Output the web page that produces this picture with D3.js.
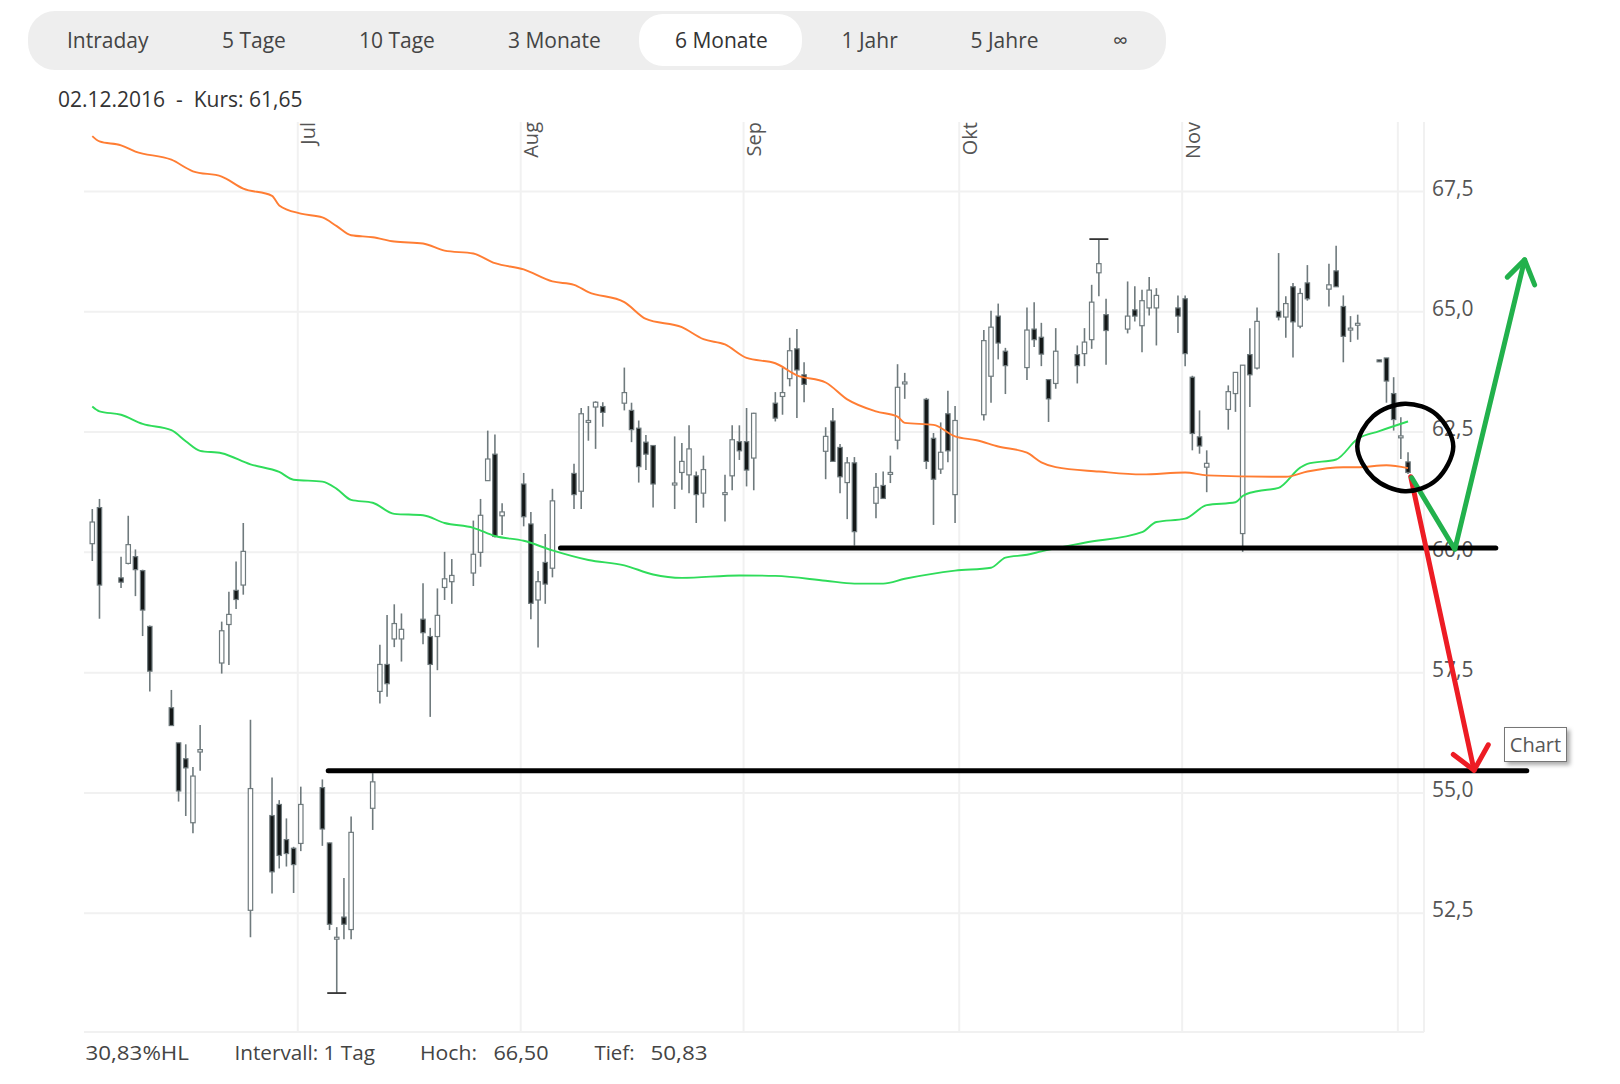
<!DOCTYPE html>
<html>
<head>
<meta charset="utf-8">
<script src="https://cdn.jsdelivr.net/npm/d3@7"></script>
<style>
    body { margin: 0; background: #fff; }
    text { font-family: "Open Sans", sans-serif; }
</style>
</head>
<body>
<div id="chart"></div>
<script>
// Range buttons and info texts
const rangeLabels = ['Intraday', '5 Tage', '10 Tage', '3 Monate', '6 Monate', '1 Jahr', '5 Jahre', '∞'];
const rangeLeft = [67, 222, 359, 508, 675, 841.5, 970.5, 1113];
const selectedRange = '6 Monate';
const headerText = '02.12.2016  -  Kurs: 61,65';
const footerTexts = ['30,83%HL', 'Intervall: 1 Tag', 'Hoch:', '66,50', 'Tief:', '50,83'];
const footerLeft = [85.5, 234.5, 420, 493.5, 594.5, 650.5];
const footerWidth = [103.5, 140.5, 57, 55, 40, 57];

// Axis ticks
const priceTicks = [52.5, 55, 57.5, 60, 62.5, 65, 67.5];
const monthTicks = ['2016-07-01', '2016-08-01', '2016-09-01', '2016-10-01', '2016-11-01', '2016-12-01'];
const monthLabels = ['Jul', 'Aug', 'Sep', 'Okt', 'Nov', ''];

// Daily candles, one row per calendar week
const candleDates = [
    '2016-06-02', '2016-06-03',
    '2016-06-06', '2016-06-07', '2016-06-08', '2016-06-09', '2016-06-10',
    '2016-06-13', '2016-06-14', '2016-06-15', '2016-06-16', '2016-06-17',
    '2016-06-20', '2016-06-21', '2016-06-22', '2016-06-23', '2016-06-24',
    '2016-06-27', '2016-06-28', '2016-06-29', '2016-06-30', '2016-07-01',
    '2016-07-04', '2016-07-05', '2016-07-06', '2016-07-07', '2016-07-08',
    '2016-07-11', '2016-07-12', '2016-07-13', '2016-07-14', '2016-07-15',
    '2016-07-18', '2016-07-19', '2016-07-20', '2016-07-21', '2016-07-22',
    '2016-07-25', '2016-07-26', '2016-07-27', '2016-07-28', '2016-07-29',
    '2016-08-01', '2016-08-02', '2016-08-03', '2016-08-04', '2016-08-05',
    '2016-08-08', '2016-08-09', '2016-08-10', '2016-08-11', '2016-08-12',
    '2016-08-15', '2016-08-16', '2016-08-17', '2016-08-18', '2016-08-19',
    '2016-08-22', '2016-08-23', '2016-08-24', '2016-08-25', '2016-08-26',
    '2016-08-29', '2016-08-30', '2016-08-31', '2016-09-01', '2016-09-02',
    '2016-09-05', '2016-09-06', '2016-09-07', '2016-09-08', '2016-09-09',
    '2016-09-12', '2016-09-13', '2016-09-14', '2016-09-15', '2016-09-16',
    '2016-09-19', '2016-09-20', '2016-09-21', '2016-09-22', '2016-09-23',
    '2016-09-26', '2016-09-27', '2016-09-28', '2016-09-29', '2016-09-30',
    '2016-10-04', '2016-10-05', '2016-10-06', '2016-10-07',
    '2016-10-10', '2016-10-11', '2016-10-12', '2016-10-13', '2016-10-14',
    '2016-10-17', '2016-10-18', '2016-10-19', '2016-10-20', '2016-10-21',
    '2016-10-24', '2016-10-25', '2016-10-26', '2016-10-27', '2016-10-28',
    '2016-10-31', '2016-11-01', '2016-11-02', '2016-11-03', '2016-11-04',
    '2016-11-07', '2016-11-08', '2016-11-09', '2016-11-10', '2016-11-11',
    '2016-11-14', '2016-11-15', '2016-11-16', '2016-11-17', '2016-11-18',
    '2016-11-21', '2016-11-22', '2016-11-23', '2016-11-24', '2016-11-25',
    '2016-11-28', '2016-11-29', '2016-11-30', '2016-12-01', '2016-12-02'
];
const opens = [
    60.17, 60.92,
    59.46, 59.76, 59.90, 59.61, 58.45,
    56.76, 56.03, 55.70, 54.37, 55.84,
    57.69, 58.49, 59.20, 59.31, 52.55,
    54.52, 54.75, 54.02, 53.84, 53.94,
    55.10, 53.95, 51.95, 52.41, 52.15,
    54.67, 57.10, 57.66, 58.19, 58.19,
    58.60, 58.24, 58.24, 59.26, 59.38,
    59.56, 59.99, 61.48, 62.03, 60.75,
    61.41, 60.58, 59.00, 59.78, 59.66,
    61.63, 61.26, 62.69, 63.01, 63.02,
    63.09, 62.94, 62.57, 62.28, 62.21,
    61.39, 61.65, 61.60, 61.58, 61.22,
    61.19, 61.58, 62.29, 62.29, 61.95,
    63.09, 63.23, 63.60, 64.22, 63.68,
    62.09, 62.72, 62.17, 61.44, 61.85,
    61.01, 61.38, 61.61, 62.32, 63.49,
    63.17, 62.36, 61.72, 62.87, 61.19,
    62.85, 63.65, 64.90, 64.17,
    63.83, 64.63, 64.46, 63.58, 63.50,
    64.10, 64.12, 64.41, 65.80, 64.93,
    64.63, 65.03, 64.70, 65.07, 65.07,
    65.07, 65.26, 63.63, 62.39, 61.76,
    62.96, 63.29, 60.38, 64.10, 63.82,
    65.00, 64.88, 65.51, 64.69, 65.59,
    65.46, 65.84, 65.10, 64.61, 64.71,
    63.99, 64.03, 63.29, 62.37, 61.87
];
const highs = [
    60.89, 61.10,
    59.90, 60.75, 60.05, 59.63, 58.47,
    57.13, 56.03, 56.00, 55.53, 56.40,
    58.55, 59.17, 59.80, 60.60, 56.51,
    55.31, 54.84, 54.46, 53.87, 55.12,
    55.27, 53.96, 52.20, 53.22, 54.50,
    55.40, 58.07, 58.69, 58.91, 58.72,
    59.35, 58.42, 59.24, 60.00, 59.85,
    60.65, 61.10, 62.52, 62.44, 61.01,
    61.64, 60.83, 59.60, 60.37, 61.31,
    61.83, 62.99, 63.03, 63.13, 63.11,
    63.83, 63.10, 62.73, 62.43, 62.21,
    62.40, 62.26, 62.63, 61.67, 62.00,
    61.60, 62.63, 62.63, 62.99, 62.89,
    63.32, 63.82, 64.45, 64.63, 63.94,
    62.59, 62.99, 62.24, 61.97, 61.97,
    61.64, 61.67, 62.00, 63.90, 63.72,
    63.20, 62.47, 62.69, 63.35, 63.03,
    64.61, 65.01, 65.16, 64.24,
    65.08, 65.19, 64.76, 63.59, 64.65,
    64.29, 64.65, 65.55, 66.50, 65.26,
    65.62, 65.52, 65.45, 65.71, 65.48,
    65.33, 65.33, 63.66, 62.94, 62.11,
    63.46, 63.73, 63.88, 64.65, 65.08,
    66.21, 65.31, 65.59, 65.48, 65.96,
    65.99, 66.36, 65.33, 64.90, 64.93,
    63.99, 64.03, 63.63, 62.80, 62.07
];
const lows = [
    59.81, 58.61,
    59.25, 59.74, 59.08, 58.25, 57.10,
    56.39, 54.81, 54.51, 54.15, 55.45,
    57.47, 57.65, 58.81, 59.11, 51.99,
    52.90, 53.42, 53.46, 52.91, 53.78,
    53.89, 52.14, 50.83, 51.95, 51.95,
    54.22, 56.85, 56.99, 58.02, 57.72,
    58.08, 56.57, 57.54, 59.00, 58.92,
    59.29, 59.69, 61.48, 60.30, 60.35,
    60.53, 58.60, 58.01, 58.92, 59.47,
    60.89, 60.89, 62.31, 62.14, 62.60,
    62.94, 62.28, 61.44, 61.70, 60.92,
    60.89, 61.29, 61.22, 60.60, 60.92,
    60.63, 61.28, 61.91, 61.36, 61.28,
    62.71, 62.85, 63.44, 62.78, 63.11,
    61.51, 61.88, 61.22, 60.68, 60.13,
    60.70, 61.10, 61.43, 62.13, 63.18,
    61.72, 60.56, 61.62, 61.86, 60.60,
    62.73, 63.10, 64.00, 63.28,
    63.57, 64.26, 63.86, 62.70, 63.39,
    63.50, 63.86, 64.22, 65.31, 63.89,
    64.54, 64.79, 64.15, 64.91, 64.29,
    64.55, 63.86, 62.11, 62.04, 61.24,
    62.54, 62.91, 60.00, 63.01, 63.79,
    64.81, 64.45, 64.04, 64.65, 65.22,
    65.10, 65.51, 63.94, 64.36, 64.41,
    63.95, 63.10, 62.52, 61.93, 61.62
];
const closes = [
    60.62, 59.31,
    59.37, 60.15, 59.63, 58.79, 57.52,
    56.39, 55.03, 55.51, 55.34, 55.89,
    58.36, 58.70, 59.01, 60.01, 55.08,
    53.35, 53.69, 53.73, 53.50, 54.75,
    54.24, 52.26, 51.99, 52.26, 54.17,
    55.22, 57.66, 57.26, 58.51, 58.39,
    58.32, 57.66, 58.68, 59.44, 59.51,
    59.95, 60.76, 61.93, 60.32, 60.83,
    60.73, 58.93, 59.38, 59.33, 61.06,
    61.19, 62.87, 62.73, 63.11, 62.90,
    63.31, 62.54, 61.77, 62.03, 61.41,
    61.43, 61.88, 62.14, 61.19, 61.71,
    61.23, 62.33, 62.10, 61.70, 62.88,
    62.78, 63.31, 64.18, 63.78, 63.48,
    62.40, 61.88, 61.56, 61.85, 60.42,
    61.34, 61.11, 61.65, 63.42, 63.53,
    61.88, 61.51, 62.07, 62.10, 62.73,
    64.39, 64.67, 64.34, 63.87,
    64.61, 64.41, 64.11, 63.18, 64.17,
    63.87, 64.36, 65.19, 65.99, 64.60,
    64.90, 64.90, 65.22, 65.44, 65.33,
    64.90, 64.12, 62.46, 62.20, 61.84,
    63.33, 63.73, 63.88, 63.68, 64.79,
    64.88, 65.16, 64.78, 65.37, 65.26,
    65.55, 65.51, 64.48, 64.65, 64.75,
    63.95, 63.55, 62.75, 62.41, 61.65
];

// Moving averages
const orangeDates = [
    '2016-06-02', '2016-06-03', '2016-06-06', '2016-06-08', '2016-06-13', '2016-06-16', '2016-06-20',
    '2016-06-23', '2016-06-27', '2016-06-28', '2016-07-01', '2016-07-04', '2016-07-06', '2016-07-08',
    '2016-07-11', '2016-07-14', '2016-07-18', '2016-07-21', '2016-07-25', '2016-07-28', '2016-08-01',
    '2016-08-05', '2016-08-08', '2016-08-10', '2016-08-15', '2016-08-18', '2016-08-23', '2016-08-26',
    '2016-08-29', '2016-09-01', '2016-09-05', '2016-09-08', '2016-09-12', '2016-09-15', '2016-09-19',
    '2016-09-22', '2016-09-23', '2016-09-27', '2016-09-30', '2016-10-03', '2016-10-06', '2016-10-10',
    '2016-10-12', '2016-10-14', '2016-10-20', '2016-10-26', '2016-11-01', '2016-11-04', '2016-11-15',
    '2016-11-18', '2016-11-23', '2016-11-25', '2016-11-29', '2016-12-02'
];
const orangeValues = [
    68.64, 68.53, 68.45, 68.32, 68.15, 67.91, 67.80,
    67.55, 67.40, 67.20, 67.03, 66.95, 66.77, 66.58,
    66.54, 66.45, 66.41, 66.26, 66.20, 66.00, 65.87,
    65.62, 65.55, 65.40, 65.19, 64.84, 64.67, 64.42,
    64.31, 64.03, 63.92, 63.67, 63.52, 63.17, 62.92,
    62.81, 62.68, 62.64, 62.40, 62.32, 62.19, 62.06,
    61.86, 61.76, 61.67, 61.61, 61.65, 61.59, 61.56,
    61.67, 61.76, 61.76, 61.80, 61.74
];
const greenDates = [
    '2016-06-02', '2016-06-03', '2016-06-06', '2016-06-09', '2016-06-13', '2016-06-15', '2016-06-17',
    '2016-06-20', '2016-06-24', '2016-06-28', '2016-06-30', '2016-07-04', '2016-07-06', '2016-07-08',
    '2016-07-11', '2016-07-14', '2016-07-18', '2016-07-21', '2016-07-25', '2016-07-28', '2016-08-01',
    '2016-08-05', '2016-08-10', '2016-08-15', '2016-08-19', '2016-08-23', '2016-08-31', '2016-09-05',
    '2016-09-12', '2016-09-16', '2016-09-20', '2016-09-23', '2016-09-30', '2016-10-05', '2016-10-07',
    '2016-10-10', '2016-10-12', '2016-10-18', '2016-10-26', '2016-10-28', '2016-11-01', '2016-11-04',
    '2016-11-08', '2016-11-09', '2016-11-11', '2016-11-14', '2016-11-17', '2016-11-18', '2016-11-22',
    '2016-11-25', '2016-11-28', '2016-12-02'
];
const greenValues = [
    63.02, 62.92, 62.85, 62.66, 62.53, 62.30, 62.10,
    62.05, 61.82, 61.66, 61.50, 61.46, 61.31, 61.08,
    61.02, 60.79, 60.76, 60.60, 60.50, 60.33, 60.23,
    60.03, 59.83, 59.72, 59.53, 59.46, 59.51, 59.50,
    59.40, 59.34, 59.34, 59.44, 59.61, 59.67, 59.88,
    59.94, 60.01, 60.19, 60.41, 60.62, 60.69, 60.97,
    61.03, 61.16, 61.26, 61.33, 61.75, 61.83, 61.92,
    62.35, 62.51, 62.71
];

// Hand drawn notes on top, given as [days after 1 July, price]
const supportUpper = [[36.6, 60.08], [166.7, 60.08]];
const supportLower = [[4.3, 55.45], [171.0, 55.45]];
const noteCircle = [
    [154.06, 63.08], [158.47, 62.85], [160.78, 62.19], [158.47, 61.50],
    [154.06, 61.26], [149.65, 61.54], [147.43, 62.19], [149.65, 62.82]
];
const greenArrow = [[155.0, 61.54], [161.0, 60.05], [170.7, 66.07]];
const greenArrowHead = [[168.3, 65.71], [170.7, 66.07], [172.1, 65.55]];
const redArrow = [[154.86, 61.56], [163.67, 55.46]];
const redArrowHead = [[160.78, 55.79], [163.67, 55.46], [165.65, 55.99]];

const w = 1620;
const h = 1084;
const plotLeft = 84;
const plotRight = 1424;
const plotTop = 122;
const dayShift = 3.5;

const parseDay = d3.utcParse('%Y-%m-%d');
const candles = candleDates.map((d, i) => ({
    date: parseDay(d),
    open: opens[i],
    high: highs[i],
    low: lows[i],
    close: closes[i]
}));

const svg = d3.select('#chart')
    .append('svg')
    .attr('width', w)
    .attr('height', h)
    .style('display', 'block');

// Scales
const xScale = d3.scaleUtc()
    .domain([parseDay('2016-06-01'), parseDay('2016-12-05')])
    .range([81.6, 1426.1]);

const yScale = d3.scaleLinear()
    .domain([50, 67.5])
    .range([1033, 191]);

const priceLow = d3.min(lows);
const priceHigh = d3.max(highs);
const plotBottom = yScale(50) - 1;

// Range buttons
svg.append('rect')
    .attr('x', 28)
    .attr('y', 11)
    .attr('width', 1138)
    .attr('height', 59)
    .attr('rx', 27)
    .attr('fill', '#eeeeee');

svg.append('rect')
    .attr('x', 639)
    .attr('y', 14)
    .attr('width', 163)
    .attr('height', 52)
    .attr('rx', 24)
    .attr('fill', '#ffffff');

svg.selectAll('.range')
    .data(rangeLabels)
    .enter()
    .append('text')
    .attr('class', 'range')
    .attr('x', (d, i) => rangeLeft[i])
    .attr('y', 48)
    .attr('font-size', 21)
    .attr('fill', d => d === selectedRange ? '#333' : '#444')
    .text(d => d);

svg.append('text')
    .attr('x', 58)
    .attr('y', 107)
    .attr('font-size', 21)
    .attr('fill', '#333')
    .style('white-space', 'pre')
    .text(headerText);

// Axes
const yAxis = d3.axisRight(yScale)
    .tickValues(priceTicks)
    .tickSize(-(plotRight - plotLeft))
    .tickPadding(8)
    .tickFormat(d => d3.format('.1f')(d).replace('.', ','));

const xAxis = d3.axisTop(xScale)
    .tickValues(monthTicks.map(parseDay))
    .tickSize(-(plotBottom - plotTop))
    .tickFormat((d, i) => monthLabels[i]);

const yAxisG = svg.append('g')
    .attr('transform', `translate(${plotRight}, 0)`)
    .call(yAxis);

const xAxisG = svg.append('g')
    .attr('transform', `translate(0, ${plotTop})`)
    .call(xAxis);

svg.selectAll('.domain').remove();
svg.selectAll('.tick line')
    .attr('stroke', '#f1f1f1')
    .attr('stroke-width', 2);

yAxisG.selectAll('text')
    .attr('font-family', '"Open Sans", sans-serif')
    .attr('font-size', 21)
    .attr('dy', '0.2em')
    .attr('fill', '#555');

xAxisG.selectAll('text')
    .attr('font-family', '"Open Sans", sans-serif')
    .attr('font-size', 20)
    .attr('fill', '#555')
    .attr('text-anchor', 'end')
    .attr('dy', 0)
    .attr('x', 0)
    .attr('y', 0)
    .attr('transform', 'translate(17.5, 0) rotate(-90)');

// Plot frame: bottom and right edge
svg.append('line')
    .attr('x1', plotLeft)
    .attr('x2', plotRight)
    .attr('y1', plotBottom)
    .attr('y2', plotBottom)
    .attr('stroke', '#f1f1f1')
    .attr('stroke-width', 2);

svg.append('line')
    .attr('x1', plotRight)
    .attr('x2', plotRight)
    .attr('y1', plotTop)
    .attr('y2', plotBottom)
    .attr('stroke', '#f1f1f1')
    .attr('stroke-width', 2);

// Candles
const candleX = d => xScale(d.date) + dayShift;
const candle = svg.append('g')
    .selectAll('g')
    .data(candles)
    .enter()
    .append('g');

candle.append('line')
    .attr('x1', candleX)
    .attr('x2', candleX)
    .attr('y1', d => yScale(d.high))
    .attr('y2', d => yScale(d.low))
    .attr('stroke', '#6f7a7d')
    .attr('stroke-width', 1.6);

candle.append('rect')
    .attr('x', d => candleX(d) - 2.2)
    .attr('y', d => yScale(Math.max(d.open, d.close)))
    .attr('width', 4.4)
    .attr('height', d => Math.abs(yScale(d.open) - yScale(d.close)))
    .attr('fill', d => d.open > d.close ? '#141818' : '#ffffff')
    .attr('stroke', '#6f7a7d')
    .attr('stroke-width', 1.2);

// Caps on the period high and low
const extremes = candles.filter(d => d.high === priceHigh || d.low === priceLow);
svg.selectAll('.cap')
    .data(extremes)
    .enter()
    .append('line')
    .attr('class', 'cap')
    .attr('x1', d => candleX(d) - 9.5)
    .attr('x2', d => candleX(d) + 9.5)
    .attr('y1', d => yScale(d.high === priceHigh ? d.high : d.low))
    .attr('y2', d => yScale(d.high === priceHigh ? d.high : d.low))
    .attr('stroke', '#333')
    .attr('stroke-width', 1.8);

// Moving averages
const avgLine = d3.line()
    .x(d => d[0])
    .y(d => d[1])
    .curve(d3.curveMonotoneX);

function drawAverage(dates, values, color) {
    const pts = dates.map((d, i) => [xScale(parseDay(d)) + dayShift, yScale(values[i])]);
    svg.append('path')
        .attr('d', avgLine(pts))
        .attr('fill', 'none')
        .attr('stroke', color)
        .attr('stroke-width', 1.9);
}
drawAverage(greenDates, greenValues, '#2fdc5a');
drawAverage(orangeDates, orangeValues, '#ff7d33');

// Footer
svg.selectAll('.footer')
    .data(footerTexts)
    .enter()
    .append('text')
    .attr('class', 'footer')
    .attr('x', (d, i) => footerLeft[i])
    .attr('y', 1060)
    .attr('font-size', 20.5)
    .attr('textLength', (d, i) => footerWidth[i])
    .attr('lengthAdjust', 'spacingAndGlyphs')
    .attr('fill', '#444')
    .text(d => d);

// Notes
const july = parseDay('2016-07-01').getTime();
const noteLine = d3.line()
    .x(d => xScale(new Date(july + d[0] * 864e5)))
    .y(d => yScale(d[1]));

function drawNote(pts, color) {
    svg.append('path')
        .attr('d', noteLine(pts))
        .attr('fill', 'none')
        .attr('stroke', color)
        .attr('stroke-width', 5)
        .attr('stroke-linecap', 'round')
        .attr('stroke-linejoin', 'round');
}
drawNote(supportUpper, '#000');
drawNote(supportLower, '#000');
drawNote(redArrow, '#ed1c24');
drawNote(redArrowHead, '#ed1c24');
drawNote(greenArrow, '#22b14c');
drawNote(greenArrowHead, '#22b14c');

svg.append('path')
    .attr('d', noteLine.curve(d3.curveCardinalClosed.tension(0))(noteCircle))
    .attr('fill', 'none')
    .attr('stroke', '#000')
    .attr('stroke-width', 4.5);

// Browser tooltip caught in the screenshot
svg.append('rect')
    .attr('x', 1504.5)
    .attr('y', 727.5)
    .attr('width', 62)
    .attr('height', 34)
    .attr('fill', '#fff')
    .attr('stroke', '#767676')
    .style('filter', 'drop-shadow(3px 3px 2px #aaa)');

svg.append('text')
    .attr('x', 1535.5)
    .attr('y', 752)
    .attr('text-anchor', 'middle')
    .attr('font-size', 20)
    .attr('fill', '#575757')
    .text('Chart');
</script>
</body>
</html>
